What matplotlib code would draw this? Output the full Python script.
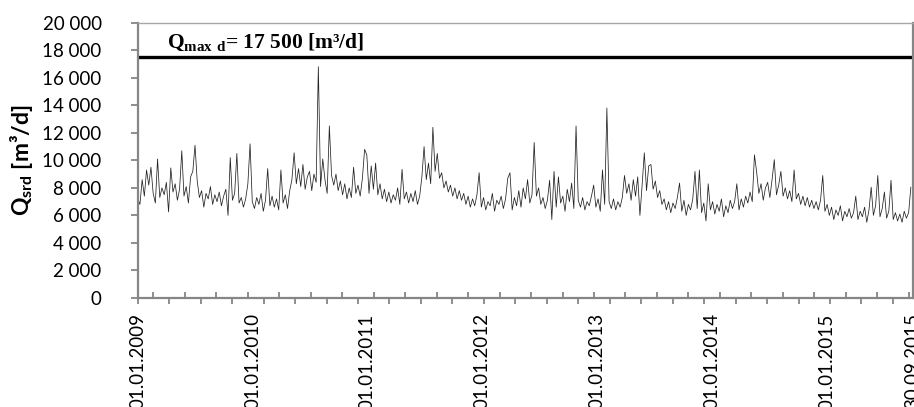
import pandas as pd
import matplotlib
matplotlib.use('Agg')
import matplotlib.pyplot as plt
from matplotlib.ticker import FuncFormatter, MultipleLocator

plt.rcParams['font.family'] = ['Lato', 'DejaVu Sans']
plt.rcParams['mathtext.fontset'] = 'custom'
plt.rcParams['mathtext.bf'] = 'Lato:bold'
plt.rcParams['mathtext.sf'] = 'Liberation Serif:bold'

start = pd.Timestamp('2009-01-01')
end = pd.Timestamp('2015-09-30')
q_max = 17500

q_2009 = [7200, 6800, 8600, 7400, 9300, 8200, 9500, 7600, 6900, 10100, 7300, 8000, 7500,
          8400, 6250, 9450, 7700, 8300, 7100, 7900, 10700, 7400, 8100, 6900, 8800, 9200,
          11100, 8500, 7300, 7800, 6600, 7600, 7200, 8100, 6800, 7500, 7000, 7700, 6700,
          7400, 7900, 6000, 10200, 7100, 7600, 10500, 6900, 7300, 6600, 7200, 8300, 11200]
q_2010 = [7000, 6500, 7300, 6800, 7600, 6300, 7100, 9400, 6700, 7400, 6600, 7200, 6400,
          9300, 6900, 7500, 6500, 7800, 8600, 10550, 8300, 9400, 8100, 9700, 7900, 8800,
          9200, 7800, 9000, 8400, 16800, 8100, 10100, 8600, 7600, 12500, 8900, 8200, 9000,
          7800, 8500, 7500, 8300, 7200, 8000, 7300, 9500, 7600, 8200, 7400, 8700, 10800]
q_2011 = [10400, 7600, 9600, 7900, 9800, 7500, 8300, 7200, 7900, 7000, 7700, 6900, 7500,
          7100, 8000, 6800, 9350, 7200, 7700, 6900, 7600, 7000, 7800, 6800, 7400, 8800,
          11000, 8600, 9800, 8300, 12400, 9200, 10500, 8700, 9100, 8000, 8500, 7700, 8200,
          7400, 8000, 7200, 7800, 7100, 7600, 6800, 7400, 6600, 7200, 6700, 7500, 9100]
q_2012 = [6600, 7300, 6400, 7000, 6700, 7600, 6300, 7100, 6800, 7400, 6500, 7200, 8700,
          9100, 6400, 7300, 6700, 7800, 6600, 8000, 7200, 8600, 6900, 7500, 11300, 7400,
          8000, 6800, 7300, 6500, 7100, 8550, 5700, 9200, 6600, 8800, 6900, 7400, 6300,
          7900, 7000, 8350, 6500, 12500, 7100, 6600, 7300, 6400, 7000, 6700, 7400, 8200]
q_2013 = [6600, 7200, 6300, 9300, 6800, 13800, 7000, 6500, 7200, 6400, 7000, 6600, 7300,
          8900, 7600, 8300, 7100, 8600, 7400, 8800, 6000, 8200, 10550, 7800, 9600, 9700,
          7900, 8500, 7300, 7800, 6800, 7200, 6400, 7000, 6200, 6900, 6500, 7300, 8350,
          6300, 7100, 6000, 6800, 6400, 7200, 9200, 6500, 9300, 6200, 6900, 5600, 8300]
q_2014 = [6400, 7000, 6100, 6800, 6300, 7200, 5900, 6700, 6200, 7100, 6500, 7000, 8300,
          6400, 7200, 6600, 7400, 6900, 7700, 7000, 10400, 9150, 7600, 8300, 7100, 8000,
          8400, 7300, 8600, 10050, 7500, 8200, 9200, 7400, 8000, 7200, 7800, 7000, 9300,
          7200, 7600, 6800, 7400, 6700, 7300, 6600, 7100, 6500, 7000, 6400, 7100, 8900]
q_2015 = [6300, 6800, 6000, 6600, 5700, 6400, 6000, 6700, 5600, 6300, 5900, 6500, 5800,
          6200, 7400, 5700, 6300, 5900, 6600, 5500, 6400, 8050, 6000, 6700, 8900, 5900,
          6500, 7700, 5800, 6300, 8550, 5700, 6200, 5600, 6100, 5500, 6300, 5800, 6200, 8050]

q = q_2009 + q_2010 + q_2011 + q_2012 + q_2013 + q_2014 + q_2015
dates = pd.date_range(start, periods=len(q), freq='7D')
days = (dates - start).days

label_dates = ['01.01.2009', '01.01.2010', '01.01.2011', '01.01.2012',
               '01.01.2013', '01.01.2014', '01.01.2015', '30.09.2015']
label_days = [(pd.to_datetime(s, format='%d.%m.%Y') - start).days for s in label_dates]
span = (end - start).days

grey = '#868686'

fig = plt.figure(figsize=(9.14, 4.07), dpi=100)
ax = fig.add_axes([0.1507, 0.2678, 0.8479, 0.6764])

ax.plot(days, q, color='#222222', lw=0.55)
ax.axhline(q_max, color='black', lw=2.4)

ax.set_xlim(0, span)
ax.set_ylim(0, 20000)

# os Y
ax.yaxis.set_major_locator(MultipleLocator(2000))
ax.yaxis.set_major_formatter(FuncFormatter(lambda v, p: f'{int(v):,}'.replace(',', ' ')))
ax.tick_params(axis='y', direction='out', length=5, width=1.3, color=grey,
               labelsize=13.5, pad=21)

# os X: dlugie kreski co 100 dni, krotkie co 50 dni
ax.xaxis.set_major_locator(MultipleLocator(100))
ax.xaxis.set_minor_locator(MultipleLocator(50))
ax.tick_params(axis='x', which='major', direction='out', length=4.5, width=1.3,
               color=grey, labelbottom=False)
ax.tick_params(axis='x', which='minor', direction='in', length=4, width=1.3, color=grey)

for d, s in zip(label_days, label_dates):
    ax.annotate(s, xy=(d, 0), xycoords=('data', 'axes fraction'),
                xytext=(0, -11), textcoords='offset points',
                rotation=90, ha='center', va='top', fontsize=13.5)

for side in ['left', 'bottom', 'right']:
    ax.spines[side].set_color(grey)
    ax.spines[side].set_linewidth(1.6)
ax.spines['top'].set_color('#a6a6a6')
ax.spines['top'].set_linewidth(1.0)

ax.set_ylabel(r'$\mathbf{Q_{srd}}$ [m³/d]', fontsize=16.5, fontweight='bold', labelpad=5)

ax.text(93, 18150, r'$\mathsf{Q_{max\ d}}$= 17 500 [m³/d]',
        family='Liberation Serif', fontweight='bold', fontsize=15.5, va='baseline')

fig.savefig('out.png', dpi=100)
